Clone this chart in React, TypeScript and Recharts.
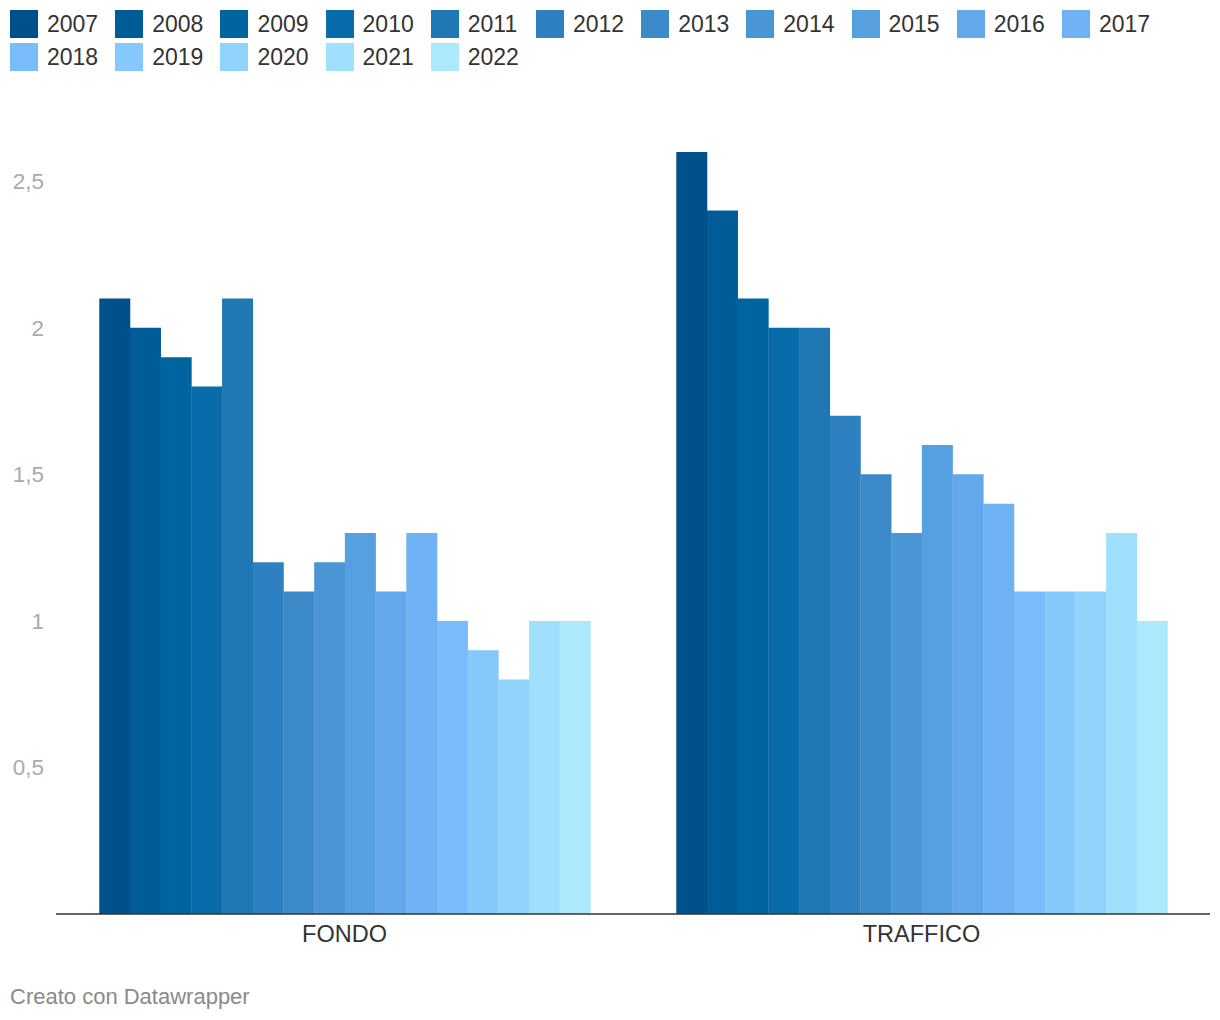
import { Bar, BarChart, XAxis, YAxis } from 'recharts';

const FONT = '"Liberation Sans", Arial, Helvetica, sans-serif';

const categories = ['FONDO', 'TRAFFICO'];
const years = ['2007', '2008', '2009', '2010', '2011', '2012', '2013', '2014', '2015', '2016', '2017', '2018', '2019', '2020', '2021', '2022'];
const fondo = [2.1, 2.0, 1.9, 1.8, 2.1, 1.2, 1.1, 1.2, 1.3, 1.1, 1.3, 1.0, 0.9, 0.8, 1.0, 1.0];
const traffico = [2.6, 2.4, 2.1, 2.0, 2.0, 1.7, 1.5, 1.3, 1.6, 1.5, 1.4, 1.1, 1.1, 1.1, 1.3, 1.0];
const yTicks = [0.5, 1, 1.5, 2, 2.5];

const COLORS = [
  '#00518a', '#005c97', '#0064a0', '#076ca9', '#1f78b4', '#2f80c0', '#3d8ac8', '#4a96d4',
  '#57a0e0', '#63a8ea', '#6fb2f4', '#79bcfb', '#85c8fc', '#90d4fd', '#9ee0fd', '#ace9fd',
];

const data = categories.map((name, ci) => {
  const row: Record<string, string | number> = { name };
  const vals = ci === 0 ? fondo : traffico;
  years.forEach((y, i) => {
    row[y] = vals[i];
  });
  return row;
});

function Legend() {
  return (
    <div style={{ position: 'absolute', left: 10, top: 10, width: 1200, display: 'flex', flexWrap: 'wrap', rowGap: 5.3 }}>
      {years.map((y, i) => (
        <div key={y} style={{ width: 105.2, height: 28, display: 'flex', alignItems: 'center' }}>
          <span style={{ width: 28, height: 28, background: COLORS[i], display: 'inline-block', flexShrink: 0 }} />
          <span style={{ marginLeft: 9, fontSize: 23, color: '#333', lineHeight: '28px' }}>{y}</span>
        </div>
      ))}
    </div>
  );
}

export default function App() {
  return (
    <div style={{ position: 'absolute', left: 0, top: 0, width: 1220, height: 1020, background: '#fff', fontFamily: FONT }}>
      <Legend />
      <div style={{ position: 'absolute', left: 0, top: 0 }}>
        <BarChart
          width={1220}
          height={960}
          data={data}
          margin={{ top: 108, right: 10, bottom: 6, left: 0 }}
          barCategoryGap="7.5%"
          barGap={-0.3}
        >
          <XAxis
            dataKey="name"
            height={40}
            tickLine={false}
            tickSize={6}
            tickMargin={5}
            axisLine={{ stroke: '#333', strokeWidth: 1.5 }}
            tick={{ fontSize: 23.5, fill: '#333', fontFamily: FONT }}
          />
          <YAxis
            width={56}
            domain={[0, 2.75]}
            ticks={yTicks}
            axisLine={false}
            tickLine={false}
            tickSize={6}
            tickMargin={6}
            tickFormatter={(v: number) => String(v).replace('.', ',')}
            tick={{ fontSize: 22.5, fill: '#aaaaaa', fontFamily: FONT }}
          />
          {years.map((y, i) => (
            <Bar key={y} dataKey={y} fill={COLORS[i]} isAnimationActive={false} />
          ))}
        </BarChart>
      </div>
      <div style={{ position: 'absolute', left: 10, top: 984, fontSize: 22, color: '#8a8a8a' }}>
        Creato con Datawrapper
      </div>
    </div>
  );
}
